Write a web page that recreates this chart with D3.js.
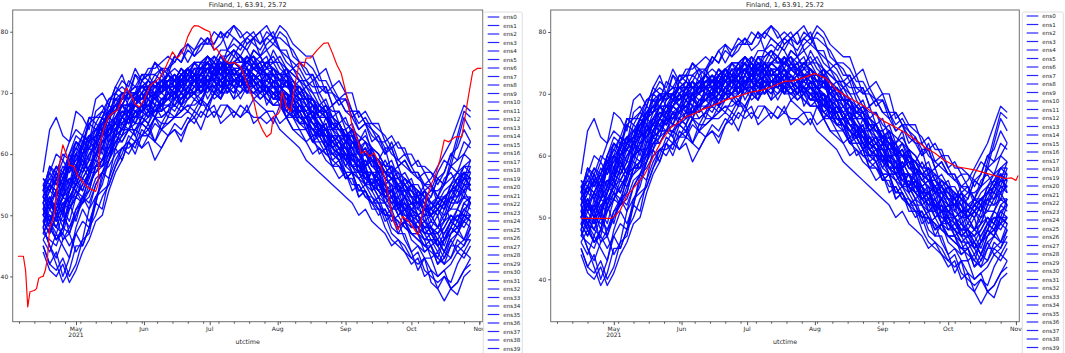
<!DOCTYPE html>
<html><head><meta charset="utf-8">
<script src="https://cdn.jsdelivr.net/npm/d3@7"></script>
<style>
html,body{margin:0;padding:0;background:#fff;}
svg{display:block;font-family:"DejaVu Sans",sans-serif;-webkit-font-smoothing:antialiased;}
</style></head>
<body>
<svg id="chart" width="1065" height="353"></svg>
<script>
// ---------------- data ----------------
const chartTitle = "Finland, 1, 63.91, 25.72";
const xLabel = "utctime";
const yTicks = [40, 50, 60, 70, 80];
const monthTicks = ["2021-05-01","2021-06-01","2021-07-01","2021-08-01","2021-09-01","2021-10-01","2021-11-01"];
const monthLabels = ["May","Jun","Jul","Aug","Sep","Oct","Nov"];
const ensStart = "2021-04-16";
const ensStepDays = 3;
const ensemble = [
[54,58,56,55,60,62,61,66,65,64,68, 71,70,69,73,71,70,72,74,71,70,73, 74,72,73,76,74,71,73,75,76,74,72, 73,70,72,71,73,68,69,67,68,63,66, 64,63,59,62,60,57,55,58,56,55,51, 53,50,54,52,49,51,53,52,55,57,54],
[46,44,47,45,43,48,51,49,52,57,59, 61,65,64,63,66,65,68,66,67,70,68, 69,70,68,72,71,69,73,74,72,70,71, 72,68,70,69,66,68,67,64,66,65,61, 63,61,58,60,59,55,57,55,53,54,52, 49,51,50,47,48,50,46,48,51,50,49],
[52,55,57,54,58,61,63,62,65,67,66, 70,69,72,71,73,72,75,73,74,76,75, 77,76,78,79,77,78,80,79,78,77,79, 76,78,79,77,75,74,73,71,72,69,67, 68,65,66,63,62,64,60,59,61,57,58, 55,56,53,54,51,53,52,55,54,56,55],
[50,49,48,51,47,51,53,52,55,57,56, 59,61,62,60,63,64,62,61,63,64,62, 65,66,64,67,68,65,66,67,66,68,65, 66,67,65,68,66,64,63,62,60,61,59, 58,56,57,54,55,53,52,50,51,48,47, 49,46,45,44,45,42,43,46,44,45,47],
[57,64,66,63,62,67,66,64,69,70,68, 71,73,70,69,72,73,71,70,74,72,71, 73,72,70,73,75,73,72,74,73,71,73, 72,71,73,72,68,71,69,66,68,66,64, 63,62,63,60,59,58,59,56,55,54,55, 52,51,50,51,48,47,49,50,49,52,53],
[49,50,48,47,51,53,55,57,58,59,62, 64,65,66,68,67,70,69,68,71,70,73, 72,71,73,74,73,75,74,72,73,75,74, 75,76,73,72,74,72,70,71,69,68,67, 66,65,62,64,61,60,61,58,57,58,56, 55,54,53,52,51,50,52,49,51,53,52],
[53,51,52,50,54,57,56,58,60,63,64, 65,66,68,67,68,66,70,69,69,70,68, 71,72,70,72,73,71,71,72,73,70,73, 72,73,71,70,72,69,70,68,66,67,66, 64,65,63,62,61,58,60,57,59,57,55, 56,55,55,53,54,57,59,58,62,66,64],
[48,45,43,46,48,51,52,54,58,59,60, 62,64,66,65,67,68,66,69,69,71,68, 70,70,72,69,71,72,71,69,73,70,70, 71,69,68,68,67,66,65,64,62,62,60, 60,59,56,57,56,54,52,51,50,47,46, 45,43,44,41,40,39,40,38,39,41,43],
[55,54,56,53,58,56,60,61,63,63,67, 67,68,70,70,71,71,72,70,72,73,71, 74,73,73,74,72,74,75,77,75,75,76, 74,75,76,74,73,72,71,69,69,67,66, 65,65,63,61,62,60,60,59,57,56,56, 55,53,52,54,52,53,53,54,56,57,57],
[45,42,41,43,40,42,46,47,52,51,56, 61,59,62,64,63,65,62,65,67,66,68, 67,69,68,71,69,70,72,71,70,72,69, 70,71,69,70,67,68,66,65,62,64,62, 61,59,60,58,56,57,55,53,54,52,50, 51,48,49,47,45,46,44,47,48,46,48],
[51,54,53,55,59,60,63,62,67,68,66, 70,72,71,74,72,73,75,74,73,76,75, 78,76,77,79,78,80,79,81,80,78,79, 80,77,78,80,79,76,75,74,72,73,70, 71,69,70,67,65,66,64,63,60,62,59, 60,58,56,57,55,53,56,57,55,58,59],
[50,52,50,53,52,55,58,56,60,61,65, 63,66,68,68,70,67,70,70,71,69,72, 71,73,70,72,72,74,73,71,73,74,72, 70,73,72,71,70,69,68,66,67,65,64, 62,63,61,60,57,59,57,56,54,54,51, 53,51,50,48,49,48,50,51,51,54,52],
[53,52,54,51,55,58,57,60,62,60,64, 65,64,66,63,61,62,59,61,63,64,63, 65,67,66,68,70,69,71,70,72,71,73, 71,70,72,69,70,67,68,66,65,64,63, 62,61,59,60,57,58,55,56,53,54,52, 52,49,50,47,48,46,44,47,48,49,50],
[47,49,46,48,53,55,54,57,60,59,63, 65,67,66,68,67,70,69,68,71,71,72, 74,73,75,75,76,74,77,76,78,77,75, 76,74,75,73,74,71,72,70,69,67,68, 66,65,63,64,61,62,60,59,58,56,57, 54,55,53,52,50,51,49,52,54,53,56],
[45,42,44,40,43,47,49,48,53,55,59, 62,63,66,66,68,67,70,68,69,69,71, 70,73,71,72,72,70,73,73,74,72,72, 74,71,71,70,72,69,67,68,66,65,64, 64,62,61,59,61,57,57,56,55,53,54, 51,52,50,49,48,45,46,49,48,51,50],
[54,58,57,60,59,62,61,65,64,66,68, 67,69,69,70,68,71,71,72,70,70,73, 72,74,72,71,74,73,75,73,73,72,75, 73,74,73,73,71,72,70,68,69,67,67, 64,65,63,63,60,61,59,59,57,57,54, 55,53,53,50,51,52,51,53,55,54,57],
[50,53,51,54,56,55,58,61,60,63,65, 64,67,66,69,69,70,70,71,72,71,73, 72,74,74,75,74,76,76,77,76,78,79, 78,80,79,81,80,78,77,76,76,73,74, 71,72,70,70,66,67,65,65,62,63,61, 61,58,59,57,57,55,57,60,59,62,61],
[52,49,51,48,52,54,53,56,59,58,61, 64,63,66,66,67,66,68,68,69,68,70, 69,71,70,71,71,70,72,71,71,72,71, 69,70,69,69,66,67,65,65,62,63,61, 58,59,56,56,53,54,52,52,49,50,47, 47,44,45,43,43,40,41,38,37,40,41],
[56,54,57,55,58,60,59,62,61,64,66, 65,68,67,70,69,71,71,72,71,73,72, 74,73,75,73,76,75,73,75,74,76,74, 75,73,74,72,73,70,71,69,69,66,67, 64,65,62,63,60,61,58,58,55,56,53, 54,52,52,49,50,48,51,54,53,56,55],
[49,52,50,53,55,58,57,59,62,61,64, 66,65,67,69,68,70,70,71,70,72,71, 70,72,72,73,72,71,73,73,71,73,72, 71,72,71,71,69,70,68,66,67,64,65, 62,63,61,61,58,59,57,57,54,55,52, 53,51,52,54,53,56,55,59,63,67,66],
[51,48,53,50,54,57,59,57,61,64,62, 66,68,66,69,69,70,68,71,71,72,70, 73,72,72,74,72,72,75,73,74,74,73, 72,72,73,70,70,69,69,66,66,64,65, 61,60,62,58,58,56,57,55,54,52,53, 50,50,48,49,47,47,45,48,50,49,52],
[48,45,42,39,41,45,45,48,52,56,59, 62,62,64,65,65,67,67,68,66,69,70, 69,70,71,72,70,73,72,72,73,71,70, 71,70,70,68,68,67,65,65,63,63,61, 62,60,60,57,57,55,56,54,53,51,52, 49,49,47,48,46,46,44,43,46,45,48],
[55,57,60,59,62,64,63,66,66,67,69, 69,70,70,71,71,72,71,70,72,72,74, 73,75,75,76,74,74,75,74,74,75,74, 73,73,72,72,72,70,69,69,66,66,64, 65,63,63,60,60,58,59,57,57,54,55, 53,53,50,51,50,52,51,54,56,55,58],
[50,52,50,51,53,53,55,57,57,59,61, 63,62,64,64,65,64,66,65,65,66,66, 67,66,68,68,66,68,68,66,68,67,69, 68,67,67,65,66,64,64,62,63,60,61, 58,58,56,57,54,54,52,53,50,50,48, 49,47,47,44,45,43,46,48,47,50,49],
[53,55,54,56,58,58,61,63,62,65,67, 69,68,70,70,71,71,72,71,73,72,74, 73,75,75,76,75,77,77,78,77,79,78, 77,79,78,77,77,74,75,73,73,70,71, 68,69,67,67,64,65,62,63,61,61,58, 59,57,57,54,55,53,52,55,57,56,59],
[47,50,48,51,49,53,56,55,58,61,60, 64,66,65,67,67,68,67,69,69,70,69, 71,70,72,72,73,72,70,72,72,73,72, 70,71,70,70,68,69,66,66,64,65,62, 63,61,61,58,59,56,57,54,55,51,52, 49,50,47,46,43,44,42,45,47,46,49],
[54,52,56,57,55,60,61,59,63,66,64, 67,70,68,69,70,71,69,72,72,73,71, 72,75,73,72,73,74,75,73,73,76,74, 75,72,74,73,72,71,71,69,69,67,68, 65,65,63,64,60,62,59,59,57,58,54, 56,54,53,51,52,51,53,54,54,57,56],
[49,47,50,46,47,44,46,51,53,54,55, 58,61,61,62,63,63,66,64,65,66,67, 68,68,69,67,70,70,70,71,69,71,70, 70,69,68,69,67,66,66,65,64,63,61, 60,59,57,57,54,55,53,52,50,51,48, 49,47,46,45,45,42,44,46,47,49,48],
[52,54,56,55,58,62,60,62,63,66,67, 68,70,69,70,71,72,71,72,73,71,73, 74,72,73,74,75,73,74,75,76,75,74, 74,73,73,71,71,70,69,68,67,66,66, 63,63,62,61,59,60,58,57,55,56,54, 53,52,51,50,50,48,49,52,52,53,53],
[50,53,51,55,52,56,59,57,60,61,64, 64,66,67,65,68,68,70,67,70,69,72, 70,71,73,72,72,70,74,72,73,74,71, 72,71,69,69,70,66,68,66,65,64,64, 61,62,60,59,58,58,54,56,52,50,49, 46,44,41,43,39,38,36,38,39,41,42],
[55,54,56,59,57,59,62,62,63,65,66, 68,66,69,70,69,71,70,73,71,72,73, 74,72,73,75,72,75,75,73,74,75,76, 73,75,74,73,73,70,70,70,66,68,66, 66,64,63,62,62,58,61,57,57,56,55, 53,55,51,53,50,52,53,54,55,56,56],
[51,49,52,55,56,56,60,61,62,65,66, 67,70,70,70,73,73,73,74,74,75,77, 75,77,78,78,78,80,77,79,78,79,80, 78,79,80,77,76,75,74,72,73,71,71, 68,69,67,66,64,65,63,62,60,61,58, 59,57,56,55,55,52,54,55,56,58,57],
[46,48,46,48,52,49,53,54,58,58,59, 63,64,64,67,65,66,67,67,68,68,69, 70,70,70,71,71,72,70,72,72,73,71, 70,71,70,69,69,66,67,65,64,63,63, 60,61,59,58,57,57,54,55,53,53,50, 51,49,48,47,47,45,43,45,45,46,46],
[53,51,54,53,54,58,60,57,62,63,64, 65,68,68,68,70,69,70,71,71,71,70, 72,72,73,71,74,74,71,74,74,72,74, 73,73,73,72,71,71,69,69,68,67,66, 65,64,64,61,61,60,59,58,57,56,55, 54,53,52,52,53,56,57,60,61,64,62],
[48,51,49,52,51,54,52,57,58,58,62, 63,66,65,67,66,69,67,68,69,70,69, 71,70,72,71,74,72,74,72,73,74,72, 73,70,72,69,70,67,68,66,65,63,64, 61,62,60,60,57,58,55,57,53,54,51, 52,50,49,48,48,46,48,50,49,52,51],
[52,55,54,57,59,57,62,63,62,66,65, 69,69,70,71,70,72,71,71,73,72,74, 72,74,74,75,73,76,75,75,76,74,77, 76,74,77,75,74,73,72,71,70,68,69, 66,67,64,65,62,63,61,60,58,59,56, 57,55,54,53,52,51,50,53,52,55,54],
[51,53,50,53,55,54,57,59,59,62,63, 64,66,65,68,67,68,69,70,69,71,70, 71,72,72,71,73,72,71,73,73,71,73, 72,70,71,70,67,68,65,66,63,64,62, 59,60,57,57,53,54,51,51,48,46,45, 44,42,43,40,41,38,40,39,42,44,43],
[54,56,55,57,60,58,62,61,64,65,67, 68,69,70,69,71,71,72,71,73,72,72, 73,72,74,74,72,74,74,75,74,73,75, 74,73,73,71,72,70,71,69,68,67,67, 64,65,63,62,60,61,59,58,56,57,54, 55,53,53,51,51,53,55,58,57,60,59],
[49,47,50,49,51,53,52,55,57,58,60, 63,64,64,66,66,67,66,68,68,69,68, 70,70,71,70,72,71,72,72,71,73,72, 71,71,70,71,69,69,67,67,65,65,63, 63,61,62,59,59,57,57,55,55,53,53, 51,51,49,50,47,48,47,49,50,50,53],
[53,55,53,56,58,59,60,63,62,65,66, 67,68,68,70,69,70,71,71,72,72,73, 74,73,74,74,74,75,74,76,75,75,76, 75,75,75,75,73,74,72,72,71,71,70, 70,68,69,67,67,65,65,64,63,61,62, 60,60,58,58,57,56,55,58,59,60,62],
[44,41,40,42,39,41,44,46,49,50,54, 57,59,62,61,64,63,65,64,66,66,67, 68,67,69,68,70,69,71,69,70,71,70, 69,70,68,68,66,66,64,64,62,61,60, 59,58,57,55,55,53,53,51,51,49,50, 48,47,47,45,46,44,46,48,47,50,49],
[54,56,58,57,60,63,62,65,66,66,69, 70,71,70,73,72,74,74,75,76,75,77, 78,77,79,78,80,79,80,81,79,80,79, 80,81,79,79,78,77,75,75,74,72,72, 70,69,69,66,67,65,64,62,62,60,59, 58,57,57,55,54,54,55,56,57,58,58],
[51,50,49,52,53,55,56,58,60,62,63, 65,64,67,66,68,68,67,69,70,69,70, 72,71,71,73,71,72,73,71,72,73,72, 71,71,70,70,69,68,66,66,64,64,62, 61,60,59,57,57,55,55,53,52,51,51, 49,48,48,46,46,45,47,49,48,50,50],
[50,52,51,53,56,55,58,60,61,64,63, 66,67,67,68,69,70,69,71,71,70,72, 72,73,72,74,73,73,74,72,73,74,73, 72,73,71,71,70,69,68,67,65,65,63, 62,61,60,58,58,56,55,54,53,52,52, 51,52,53,55,56,58,60,62,65,68,67],
[52,49,47,50,48,50,53,51,55,57,58, 60,61,60,62,61,63,62,64,63,65,64, 66,65,67,66,67,66,68,67,66,67,66, 66,65,66,64,63,62,61,59,58,57,56, 55,54,53,52,50,51,49,48,47,45,46, 44,43,42,43,41,40,41,42,44,43,45],
[56,55,58,56,59,61,60,63,64,63,66, 68,68,70,69,72,71,73,72,73,74,73, 74,75,74,76,75,74,76,77,76,75,77, 76,77,75,76,74,73,72,72,70,70,68, 67,67,65,64,63,62,61,60,58,58,57, 56,55,54,53,52,52,53,54,55,57,56],
[47,46,45,48,47,50,52,53,56,57,60, 61,63,64,64,66,65,67,67,68,67,69, 70,69,70,71,70,72,71,72,71,70,72, 71,70,71,69,68,68,66,65,64,62,62, 60,60,58,57,56,55,54,52,52,50,49, 48,47,46,45,44,43,42,43,45,44,46],
[53,57,55,58,57,60,58,62,63,62,65, 66,68,67,68,70,69,71,70,71,72,71, 73,72,74,72,73,74,73,75,74,73,74, 73,74,74,72,72,71,70,69,68,66,66, 64,64,62,61,60,60,58,58,56,55,54, 54,52,52,51,50,51,52,51,53,54,55],
[50,48,46,47,45,47,45,48,50,53,55, 58,60,63,62,65,64,66,66,67,68,67, 69,70,69,71,70,71,71,70,72,71,71, 70,71,69,70,68,67,67,65,64,63,63, 61,60,60,58,57,56,55,54,52,53,51, 50,49,48,46,47,45,46,47,49,48,50],
[55,52,54,56,58,57,60,62,64,64,67, 67,69,70,69,71,70,72,71,72,73,72, 74,73,73,75,74,76,74,75,75,76,75, 74,75,74,73,73,71,71,70,68,68,67, 65,64,64,62,61,60,60,58,57,56,56, 54,54,52,51,51,50,52,53,53,55,55],
[48,52,50,51,54,56,54,57,60,61,61, 64,66,65,67,67,69,68,68,70,70,71, 70,72,71,72,73,72,73,74,72,74,73, 72,72,71,70,70,68,67,67,65,64,64, 62,61,61,59,58,57,57,55,54,54,52, 51,50,50,48,48,47,48,50,49,51,52]
];
const ensNames = ensemble.map((_, i) => "ens" + i);

const obsLeftDates = ["2021-04-04T12","2021-04-07","2021-04-08","2021-04-09","2021-04-10","2021-04-12","2021-04-13","2021-04-14","2021-04-15","2021-04-16","2021-04-17","2021-04-18","2021-04-19","2021-04-20","2021-04-21","2021-04-22","2021-04-23","2021-04-24","2021-04-25","2021-04-26","2021-04-27","2021-04-28","2021-04-30","2021-05-02","2021-05-03","2021-05-05","2021-05-07","2021-05-10","2021-05-11","2021-05-12","2021-05-14","2021-05-16","2021-05-18","2021-05-20","2021-05-22","2021-05-24","2021-05-26","2021-05-28","2021-05-30","2021-06-01","2021-06-04","2021-06-06","2021-06-08","2021-06-10","2021-06-12","2021-06-14","2021-06-16","2021-06-17","2021-06-19","2021-06-21","2021-06-23","2021-06-24","2021-06-26","2021-06-29","2021-07-01","2021-07-02","2021-07-03","2021-07-04","2021-07-06","2021-07-08","2021-07-10","2021-07-12","2021-07-15","2021-07-16","2021-07-18","2021-07-21","2021-07-23","2021-07-25","2021-07-27","2021-07-29","2021-07-30","2021-08-01","2021-08-02","2021-08-03","2021-08-05","2021-08-07","2021-08-09","2021-08-11","2021-08-13","2021-08-14","2021-08-16","2021-08-19","2021-08-22","2021-08-24","2021-08-26","2021-08-28","2021-08-30","2021-09-02","2021-09-04","2021-09-07","2021-09-08","2021-09-10","2021-09-12","2021-09-14","2021-09-17","2021-09-19","2021-09-21","2021-09-23","2021-09-25","2021-09-27","2021-09-30","2021-10-02","2021-10-04","2021-10-06","2021-10-08","2021-10-10","2021-10-12","2021-10-14","2021-10-16","2021-10-18","2021-10-21","2021-10-24","2021-10-26","2021-10-27","2021-10-29","2021-10-31","2021-11-02"];
const obsLeftValues = [43.3,43.3,41.0,35.0,37.5,37.7,38.0,39.7,39.9,40.0,41.0,43.0,48.1,48.8,50.0,53.0,56.6,59.6,61.5,60.5,59.6,58.2,58.0,56.3,56.0,55.0,54.4,53.9,55.0,61.8,64.5,66.1,66.8,67.2,69.0,70.8,69.7,68.2,67.7,68.8,71.3,71.8,72.4,73.5,75.1,76.7,75.7,76.0,77.0,79.2,80.6,81.0,80.9,80.3,80.0,78.5,77.0,77.3,76.2,75.3,74.8,75.0,74.3,73.5,71.6,68.8,65.6,64.0,62.8,63.4,66.1,66.5,67.0,70.2,67.7,67.0,71.6,75.1,74.3,75.7,75.7,77.0,78.1,78.2,76.5,74.6,73.2,68.8,64.5,61.8,60.1,60.5,59.6,60.2,58.0,56.0,52.2,48.9,47.6,49.8,48.9,47.9,46.8,50.3,52.8,55.0,56.6,59.0,62.3,62.0,62.8,62.8,67.2,69.4,73.5,74.0,74.0];

const obsRightDates = ["2021-04-16","2021-04-30","2021-05-02","2021-05-04","2021-05-07","2021-05-09","2021-05-11","2021-05-15","2021-05-17","2021-05-19","2021-05-23","2021-05-27","2021-05-30","2021-06-03","2021-06-07","2021-06-10","2021-06-14","2021-06-18","2021-06-22","2021-06-26","2021-07-03","2021-07-08","2021-07-12","2021-07-18","2021-07-22","2021-07-26","2021-08-01","2021-08-06","2021-08-11","2021-08-17","2021-08-24","2021-08-28","2021-09-02","2021-09-08","2021-09-14","2021-09-21","2021-09-25","2021-09-29","2021-10-05","2021-10-13","2021-10-21","2021-10-27","2021-10-30","2021-11-01","2021-11-02"];
const obsRightValues = [49.85,49.85,50.4,51.2,53.6,54.3,55.2,56.9,58.2,59.8,62.5,64.5,65.2,66.3,66.8,67.4,67.9,68.5,69.1,69.5,70.3,70.6,71.1,72.0,72.1,72.5,73.3,72.5,70.6,69.3,67.9,66.8,65.5,64.4,63.1,61.2,60.4,59.3,58.2,57.7,56.9,56.3,56.4,56.0,56.8];

// ---------------- layout ----------------
const W = 1065, H = 353;
const panels = [
  {left:12.7, right:482.7, top:10, bottom:321.7, yDomain:[32.6,83.55], obsD:obsLeftDates, obsV:obsLeftValues, legX:483.3, legW:39, legY0:17},
  {left:550.7, right:1019.3, top:10, bottom:321.7, yDomain:[33.14,83.56], obsD:obsRightDates, obsV:obsRightValues, legX:1022.3, legW:41, legY0:16}
];
const xDomain = [new Date(Date.UTC(2021,3,2,3)), new Date(Date.UTC(2021,10,2,13))];
const parse = s => new Date(s.length > 10 ? s + ":00:00Z" : s + "T00:00:00Z");
const ensStartDate = parse(ensStart);
const ensDates = ensemble[0].map((_, i) => d3.utcDay.offset(ensStartDate, i * ensStepDays));

const svg = d3.select("#chart");
const txt = "#262626";

panels.forEach((p, pi) => {
  const x = d3.scaleUtc().domain(xDomain).range([p.left, p.right]);
  const y = d3.scaleLinear().domain(p.yDomain).range([p.bottom, p.top]);
  const g = svg.append("g");
  const clipId = "clip" + pi;
  svg.append("clipPath").attr("id", clipId).append("rect")
    .attr("x", p.left).attr("y", p.top).attr("width", p.right - p.left).attr("height", p.bottom - p.top);

  const line = d3.line().x(d => x(d[0])).y(d => y(d[1]));
  const lg = g.append("g").attr("clip-path", `url(#${clipId})`);
  ensemble.forEach(vals => {
    lg.append("path").datum(vals.map((v, i) => [ensDates[i], v]))
      .attr("d", line).attr("fill", "none").attr("stroke", "#0000ff")
      .attr("stroke-width", 1.35).attr("stroke-opacity", 0.92).attr("stroke-linejoin", "round");
  });
  lg.append("path").datum(p.obsD.map((d, i) => [parse(d), p.obsV[i]]))
    .attr("d", line).attr("fill", "none").attr("stroke", "#ff0000")
    .attr("stroke-width", 1.2).attr("stroke-linejoin", "round");

  // frame
  g.append("rect").attr("x", p.left).attr("y", p.top)
    .attr("width", p.right - p.left).attr("height", p.bottom - p.top)
    .attr("fill", "none").attr("stroke", "#707070").attr("stroke-width", 1);

  // y axis
  const ya = d3.axisLeft(y).tickValues(yTicks).tickSize(2.5).tickPadding(2).tickFormat(d3.format("d"));
  const yg = g.append("g").attr("transform", `translate(${p.left},0)`).call(ya);
  yg.select(".domain").remove();
  yg.selectAll("line").attr("stroke", "#555");
  yg.selectAll("text").attr("font-size", 6).attr("fill", txt).attr("font-family", "DejaVu Sans");

  // x minor ticks (Mondays)
  const mondays = d3.utcMonday.range(xDomain[0], xDomain[1]);
  const xm = d3.axisBottom(x).tickValues(mondays).tickSize(2).tickFormat("");
  const xmg = g.append("g").attr("transform", `translate(0,${p.bottom})`).call(xm);
  xmg.select(".domain").remove();
  xmg.selectAll("line").attr("stroke", "#555");

  // x major ticks
  const majors = monthTicks.map(parse);
  const xa = d3.axisBottom(x).tickValues(majors).tickSize(3.5).tickFormat("");
  const xg = g.append("g").attr("transform", `translate(0,${p.bottom})`).call(xa);
  xg.select(".domain").remove();
  xg.selectAll("line").attr("stroke", "#555");
  majors.forEach((d, i) => {
    g.append("text").attr("x", x(d)).attr("y", p.bottom + 9)
      .attr("text-anchor", "middle").attr("font-size", 6).attr("fill", txt).text(monthLabels[i]);
    if (i === 0) {
      g.append("text").attr("x", x(d)).attr("y", p.bottom + 15.5)
        .attr("text-anchor", "middle").attr("font-size", 6).attr("fill", txt).text("2021");
    }
  });

  // axis label and title
  g.append("text").attr("x", (p.left + p.right) / 2).attr("y", p.bottom + 22.5)
    .attr("text-anchor", "middle").attr("font-size", 6.3).attr("fill", txt).text(xLabel);
  g.append("text").attr("x", (p.left + p.right) / 2).attr("y", 7.3)
    .attr("text-anchor", "middle").attr("font-size", 6.6).attr("fill", txt).text(chartTitle);

  // legend (box runs past the bottom edge; only the entries that fit in the window are shown)
  const leg = svg.append("g");
  const rowH = 8.5;
  leg.append("rect").attr("x", p.legX).attr("y", 12).attr("width", p.legW)
    .attr("height", ensNames.length * rowH + 6).attr("rx", 1.5)
    .attr("fill", "#fff").attr("fill-opacity", 0.85).attr("stroke", "#d6d6d6").attr("stroke-width", 0.8);
  ensNames.forEach((n, i) => {
    const yy = p.legY0 + i * rowH;
    if (yy + 3.5 > H) return;
    leg.append("line").attr("x1", p.legX + 4.4).attr("x2", p.legX + 16)
      .attr("y1", yy).attr("y2", yy).attr("stroke", "#0000ff").attr("stroke-width", 1.2).attr("stroke-opacity", 0.85);
    leg.append("text").attr("x", p.legX + 20).attr("y", yy + 2).attr("font-size", 5.6)
      .attr("fill", txt).text(n);
  });
});
</script>
</body></html>
